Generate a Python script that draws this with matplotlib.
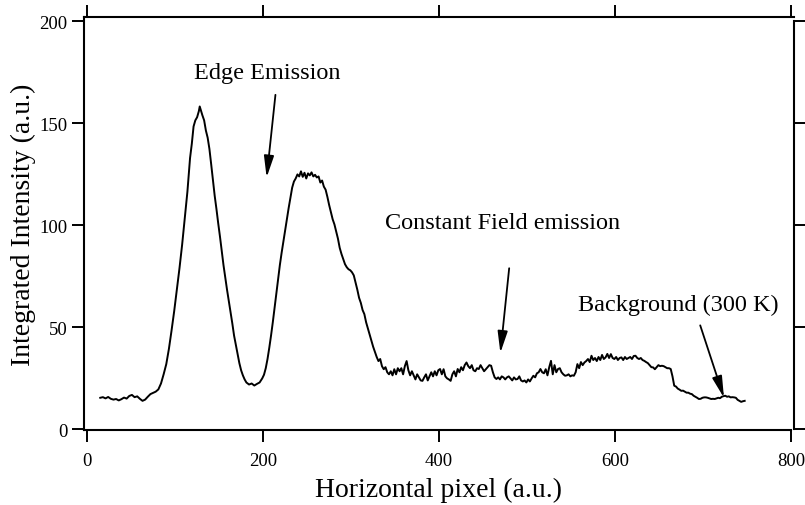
import matplotlib
matplotlib.use('Agg')
import matplotlib.pyplot as plt

plt.rcParams['font.family'] = ['Liberation Serif', 'DejaVu Serif']

# integrated intensity profile
pixel = [15, 18, 21, 24, 27, 30, 33, 36, 39, 42, 45, 48, 51, 54, 57, 60, 63, 66, 69, 72, 75, 78, 81,
         84, 87, 90, 93, 96, 99, 102, 105, 108, 111, 114, 117, 119, 121, 123, 125, 127, 128,
         131, 133, 135, 137, 139, 141, 143, 145, 147, 149, 151, 153, 155, 157, 159, 161, 163, 165,
         167, 169, 171, 173, 175, 177, 179, 181, 184, 187, 190, 193, 196, 199, 201, 203, 205, 207,
         209, 211, 213, 215, 217, 219, 221, 223, 225, 227, 229, 231, 233, 235, 237, 239, 241, 243,
         245, 247, 249, 251, 253, 255, 257, 259, 261, 263, 265, 267, 269, 271, 273, 275, 277, 279,
         281, 283, 285, 287, 289, 291, 293, 295, 297, 299, 301, 303, 305, 307, 309, 311, 313, 315,
         317, 319, 321, 323, 325, 327, 329, 331, 333, 335, 337, 339, 341, 343, 345, 347, 349, 351,
         353, 355, 357, 359, 361, 363, 365, 367, 369, 371, 373, 375, 377, 379, 381, 383, 385, 387,
         389, 391, 393, 395, 397, 399, 401, 403, 405, 407, 409, 411, 413, 415, 417, 419, 421, 423,
         425, 427, 429, 431, 433, 435, 437, 439, 441, 443, 445, 447, 449, 451, 453, 455, 457, 459,
         461, 463, 465, 467, 469, 471, 473, 475, 477, 479, 481, 483, 485, 487, 489, 491, 493, 495,
         497, 499, 501, 503, 505, 507, 509, 511, 513, 515, 517, 519, 521, 523, 525, 527, 529, 531,
         533, 535, 537, 539, 541, 543, 545, 547, 549, 551, 553, 555, 557, 559, 561, 563, 565, 567,
         569, 571, 573, 575, 577, 579, 581, 583, 585, 587, 589, 591, 593, 595, 597, 599, 601, 603,
         605, 607, 609, 611, 613, 615, 617, 619, 621, 623, 625, 627, 629, 631, 633, 635, 637, 639,
         641, 643, 645, 647, 649, 651, 653, 655, 657, 659, 661, 663, 665, 667, 669, 671, 673, 675,
         677, 679, 681, 683, 685, 687, 689, 691, 693, 695, 697, 699, 701, 703, 705, 707, 709, 711,
         713, 715, 717, 719, 721, 723, 725, 727, 729, 731, 733, 735, 737, 739, 741, 743, 745, 747]
intensity = [15.5, 15.8, 15.2, 15.9, 15.0, 14.6, 14.9, 14.2, 14.8, 15.6, 15.1, 16.4, 16.9, 15.8, 16.2, 15.0, 14.0, 14.6, 16.0, 17.3, 17.9, 18.5, 19.6,
             22.5, 27.0, 32.0, 39.5, 48.5, 58.0, 68.5, 79.0, 90.5, 103.5, 116.5, 133.0, 140.0, 148.5, 151.5, 153.0, 156.0, 158.3,
             154.0, 151.5, 146.5, 143.0, 137.5, 130.0, 122.0, 114.5, 108.0, 101.0, 94.5, 87.5, 80.5, 74.5, 68.5, 63.0, 57.5, 52.0,
             46.0, 41.5, 37.0, 32.5, 29.0, 26.5, 24.5, 23.0, 22.0, 22.5, 21.5, 22.3, 23.0, 25.0, 26.8, 30.0, 34.5, 40.0,
             46.0, 52.5, 59.5, 66.5, 73.5, 80.5, 86.5, 92.0, 97.5, 103.0, 108.5, 113.5, 118.5, 121.5, 123.0, 125.0, 124.0, 126.5,
             123.8, 125.8, 123.0, 125.5, 124.5, 126.0, 124.0, 124.8, 123.5, 124.0, 121.0, 122.0, 119.0, 117.5, 114.0, 110.0, 106.5, 103.0,
             100.5, 97.0, 93.5, 89.0, 86.0, 83.5, 81.0, 79.5, 78.5, 78.0, 77.0, 75.5, 72.0, 68.5, 64.5, 62.0, 58.5, 56.5,
             52.5, 49.5, 46.5, 43.5, 40.5, 38.0, 35.5, 33.5, 34.5, 31.0, 29.5, 30.5, 28.0, 27.0, 28.5, 26.5, 29.5, 27.0,
             30.0, 28.5, 30.0, 27.0, 31.0, 33.5, 29.0, 26.5, 28.5, 26.5, 24.5, 27.0, 25.5, 24.0, 23.8, 25.5, 27.0, 24.0,
             26.0, 28.0, 26.0, 28.5, 26.5, 29.0, 29.6, 27.0, 29.5, 26.0, 25.0, 24.5, 23.8, 27.0, 28.5, 26.0, 29.6, 28.0,
             30.5, 29.0, 31.5, 32.8, 31.0, 30.0, 31.5, 29.0, 28.5, 30.0, 29.6, 31.5, 30.0, 28.5, 29.5, 30.5, 31.5, 31.2,
             28.0, 25.5, 24.7, 25.5, 24.5, 26.0, 25.5, 24.5, 25.5, 26.0, 25.0, 24.0, 25.5, 24.5, 24.7, 26.0, 24.0, 23.5,
             24.0, 23.0, 24.5, 23.5, 25.0, 26.3, 25.5, 27.5, 28.0, 29.6, 28.0, 27.5, 29.5, 26.5, 30.5, 33.6, 27.0, 31.5,
             28.0, 29.6, 30.0, 28.0, 27.0, 26.3, 26.5, 27.0, 26.0, 26.5, 26.3, 28.0, 32.0, 30.0, 33.0, 31.5, 32.8, 33.5,
             34.5, 33.0, 36.1, 34.0, 35.0, 33.5, 35.5, 34.0, 36.5, 34.5, 35.3, 37.0, 35.0, 36.9, 35.0, 34.5, 35.5, 34.0,
             35.0, 35.3, 34.0, 35.5, 34.5, 35.0, 35.5, 34.5, 36.0, 36.1, 35.0, 34.5, 35.0, 34.0, 33.6, 33.0, 32.5, 31.5,
             30.5, 30.4, 29.5, 30.5, 31.5, 31.0, 31.2, 31.0, 30.5, 30.0, 30.0, 29.6, 26.0, 21.4, 21.0, 20.0, 19.5, 18.9,
             19.0, 18.5, 18.0, 18.0, 17.5, 17.3, 16.5, 16.0, 15.5, 14.9, 15.0, 15.5, 15.7, 15.7, 15.5, 15.2, 14.9, 15.0,
             14.9, 15.2, 15.5, 15.3, 16.0, 16.3, 16.5, 16.0, 16.2, 15.7, 15.8, 15.7, 15.5, 14.5, 14.0, 13.5, 13.8, 14.0]

x_ticks = [0, 200, 400, 600, 800]
y_ticks = [0, 50, 100, 150, 200]

# (label, text position, arrow tail, arrow tip)
notes = [
    ('Edge Emission', (205, 175), (214, 164), (204, 123.5)),
    ('Constant Field emission', (472, 101.5), (479.5, 79), (469.5, 37.5)),
    ('Background (300 K)', (672, 61.5), (696.5, 51), (723.5, 15.5)),
]

fig = plt.figure(figsize=(8.05, 5.06), dpi=100)
ax = fig.add_axes([0.1043, 0.1482, 0.8820, 0.8156])

ax.plot(pixel, intensity, color='black', lw=1.4)

ax.set_xlim(-3.5, 803)
ax.set_ylim(-0.3, 202)
ax.set_xticks(x_ticks)
ax.set_yticks(y_ticks)
ax.spines['right'].set_bounds(0, 200)
ax.spines['bottom'].set_bounds(-3.5, 800)
for s in ax.spines.values():
    s.set_linewidth(1.5)

ax.tick_params(direction='out', length=8.5, width=1.4, top=True, right=True,
               labelsize=13.5, colors='black')
ax.tick_params(axis='x', pad=7)
ax.tick_params(axis='y', pad=3.5)

ax.set_xlabel('Horizontal pixel (a.u.)', fontsize=20, labelpad=6)
ax.set_ylabel('Integrated Intensity (a.u.)', fontsize=20, labelpad=2)

for label, txt, tail, tip in notes:
    ax.text(txt[0], txt[1], label, fontsize=17.5, ha='center', va='center')
    ax.annotate('', xy=tip, xytext=tail,
                arrowprops=dict(arrowstyle='-|>,head_length=1.3,head_width=0.3',
                                color='black', lw=1.3, shrinkA=0, shrinkB=0))

fig.savefig('out.png', dpi=100)
